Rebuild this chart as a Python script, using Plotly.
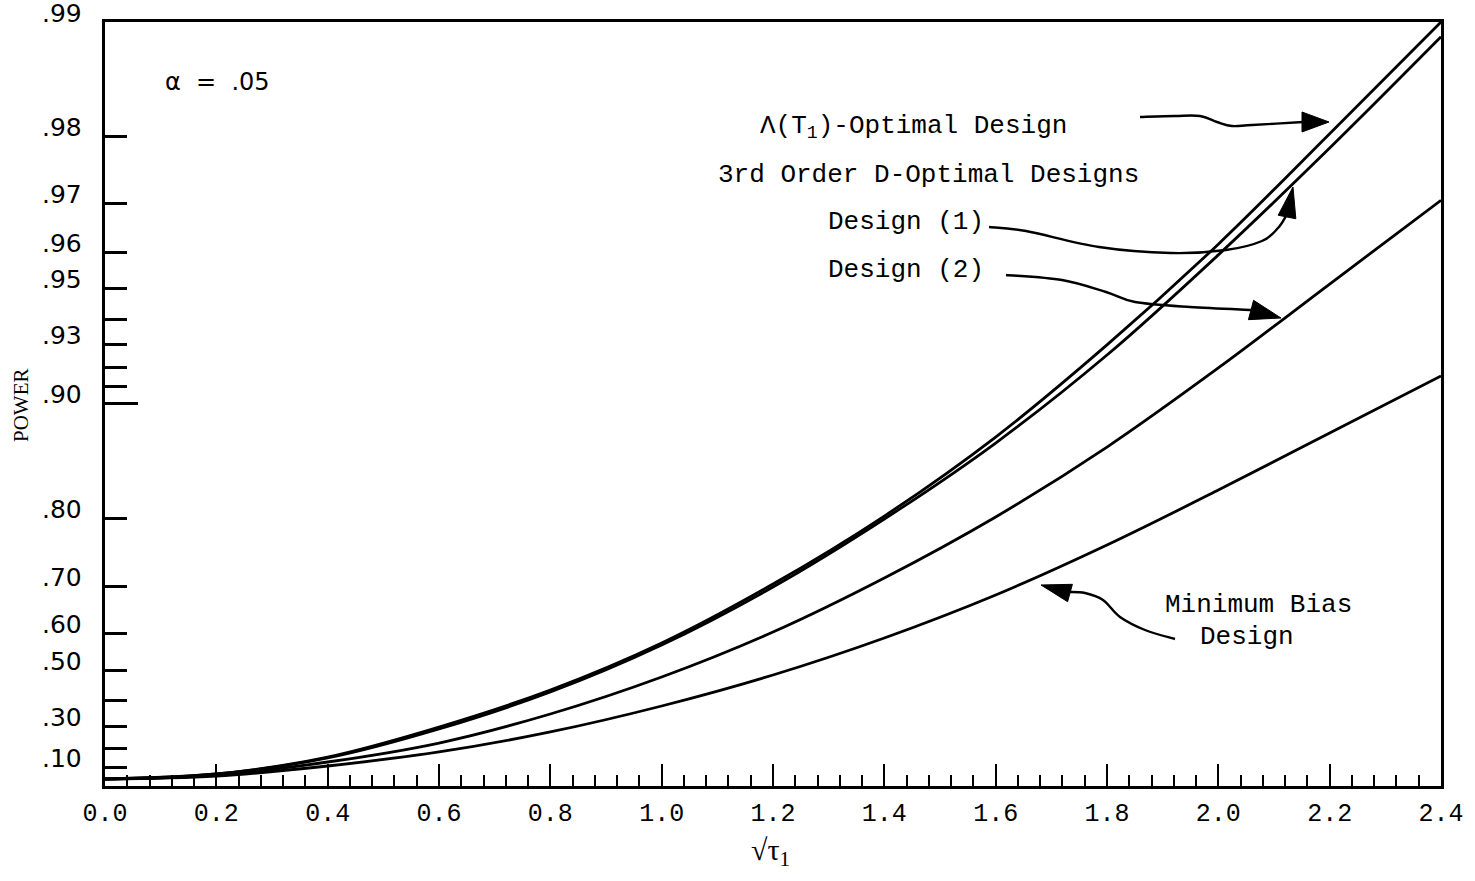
import numpy as np
import plotly.graph_objects as go

# ---------------- data ----------------
SQRT_TAU = [0.0, 0.2, 0.4, 0.6, 0.8, 1.0, 1.2, 1.4, 1.6, 1.8, 2.0, 2.2, 2.4]
POWER_LAMBDA_OPT = [0.05, 0.0708, 0.1526, 0.2955, 0.4333, 0.573, 0.7029, 0.8017, 0.8704, 0.9296, 0.9616, 0.9802, 0.990]
POWER_DESIGN_1 = [0.05, 0.0708, 0.1474, 0.2864, 0.4267, 0.5676, 0.6979, 0.7985, 0.8652, 0.9252, 0.9592, 0.9782, 0.9887]
POWER_DESIGN_2 = [0.05, 0.0667, 0.1263, 0.2227, 0.3462, 0.4767, 0.6021, 0.7118, 0.8009, 0.8617, 0.9195, 0.9511, 0.9704]
POWER_MIN_BIAS = [0.05, 0.0625, 0.1053, 0.179, 0.273, 0.3769, 0.4833, 0.5865, 0.6809, 0.7603, 0.8243, 0.8739, 0.9153]

X_TICKS = [0.0, 0.2, 0.4, 0.6, 0.8, 1.0, 1.2, 1.4, 1.6, 1.8, 2.0, 2.2, 2.4]
X_TICK_TEXT = ["0.0", "0.2", "0.4", "0.6", "0.8", "1.0", "1.2", "1.4", "1.6", "1.8", "2.0", "2.2", "2.4"]

Y_TICKS = [0.99, 0.98, 0.97, 0.96, 0.95, 0.94, 0.93, 0.92, 0.91, 0.80, 0.70, 0.60, 0.50, 0.40, 0.30, 0.20, 0.10]
Y_LABELS = {0.99: ".99", 0.98: ".98", 0.97: ".97", 0.96: ".96", 0.95: ".95", 0.93: ".93",
            0.90: ".90", 0.80: ".80", 0.70: ".70", 0.60: ".60", 0.50: ".50", 0.30: ".30", 0.10: ".10"}
Y_LONG_TICK = [0.90]

# ---------------- custom (graph-paper) power scale ----------------
SCALE_POWER = [0.0, 0.05, 0.10, 0.20, 0.30, 0.40, 0.50, 0.60, 0.70, 0.80, 0.90, 0.91, 0.92,
               0.93, 0.94, 0.95, 0.96, 0.97, 0.98, 0.99]
SCALE_POS = [0, 7, 19, 38, 60, 86, 116, 153, 200, 268, 383, 400, 419, 442, 467, 498, 534,
             583, 650, 764]


def to_scale(p):
    return np.interp(p, SCALE_POWER, SCALE_POS)


# plot-area geometry (pixels)
W, H = 1475, 881
L, R, T, B = 105, 1441, 22, 786


def pp(px, py):
    return ((px - L) / (R - L), (B - py) / (B - T))


def smooth_path(pts):
    pts = [np.array(p, float) for p in pts]
    n = len(pts)
    x0, y0 = pp(*pts[0])
    s = f"M {x0:.5f},{y0:.5f}"
    for i in range(n - 1):
        p0 = pts[i - 1] if i > 0 else pts[i]
        p1 = pts[i]
        p2 = pts[i + 1]
        p3 = pts[i + 2] if i + 2 < n else pts[i + 1]
        c1 = p1 + (p2 - p0) / 6.0
        c2 = p2 - (p3 - p1) / 6.0
        a = pp(*c1); b = pp(*c2); c = pp(*p2)
        s += f" C {a[0]:.5f},{a[1]:.5f} {b[0]:.5f},{b[1]:.5f} {c[0]:.5f},{c[1]:.5f}"
    return s


def head_path(base, tip, hw):
    base = np.array(base, float); tip = np.array(tip, float)
    u = (tip - base) / np.linalg.norm(tip - base)
    nrm = np.array([-u[1], u[0]])
    v1 = base + nrm * hw
    v2 = base - nrm * hw
    a = pp(*v1); b = pp(*tip); c = pp(*v2)
    return f"M {a[0]:.5f},{a[1]:.5f} L {b[0]:.5f},{b[1]:.5f} L {c[0]:.5f},{c[1]:.5f} Z"


fig = go.Figure()
for name, vals in [("Λ(T1)-Optimal Design", POWER_LAMBDA_OPT),
                   ("Design (1)", POWER_DESIGN_1),
                   ("Design (2)", POWER_DESIGN_2),
                   ("Minimum Bias Design", POWER_MIN_BIAS)]:
    fig.add_trace(go.Scatter(x=SQRT_TAU, y=to_scale(vals), mode="lines", name=name,
                             line=dict(color="black", width=2.8, shape="spline", smoothing=1.0),
                             showlegend=False, hoverinfo="skip"))

MONO = "Liberation Mono"
SANS = "DejaVu Sans"
SERIF = "Liberation Serif"

ann = []
# y tick labels (sit slightly above their ticks as in the original)
for v, txt in Y_LABELS.items():
    ann.append(dict(x=0, xref="paper", y=float(to_scale(v)), yref="y", text=txt, showarrow=False,
                    xanchor="right", yanchor="middle", xshift=-21, yshift=9,
                    font=dict(family=SANS, size=25, color="black")))

# axis titles
px_, py_ = pp(21, 405)
ann.append(dict(x=px_, xref="paper", y=py_, yref="paper", text="POWER",
                showarrow=False, textangle=-90, xanchor="center", yanchor="middle",
                font=dict(family=SERIF, size=21, color="black")))
px_, py_ = pp(770, 852)
ann.append(dict(x=px_, xref="paper", y=py_, yref="paper",
                text="√τ<sub>1</sub>", showarrow=False, xanchor="center", yanchor="middle",
                font=dict(family=SERIF, size=30, color="black")))

# text labels
labels = [
    ("α  =  .05", 163, 82, SANS, 24),
    ("Λ(T<sub>1</sub>)-Optimal Design", 758, 127, MONO, 26),
    ("3rd Order D-Optimal Designs", 716, 175, MONO, 26),
    ("Design (1)", 826, 222, MONO, 26),
    ("Design (2)", 826, 270, MONO, 26),
    ("Minimum Bias", 1163, 605, MONO, 26),
    ("Design", 1198, 637, MONO, 26),
]
for txt, px, py, fam, sz in labels:
    x, y = pp(px, py)
    ann.append(dict(x=x, xref="paper", y=y, yref="paper", text=txt, showarrow=False,
                    xanchor="left", yanchor="middle", font=dict(family=fam, size=sz, color="black")))

# arrows (tails + filled heads), pixel-traced
arrows = [
    ([(1140, 117), (1175, 116), (1200, 116), (1217, 122), (1232, 126), (1252, 125), (1303, 122)],
     (1302, 122), (1329, 122), 10),
    ([(989, 227), (1026, 231), (1099, 247), (1171, 253), (1226, 250), (1262, 241), (1278, 228), (1286, 216)],
     (1287, 217), (1293, 187), 9),
    ([(1006, 275), (1062, 280), (1106, 292), (1135, 302), (1190, 307), (1252, 310)],
     (1251, 310), (1281, 318), 10),
    ([(1175, 639), (1145, 630), (1120, 617), (1103, 600), (1085, 593), (1068, 592)],
     (1070, 593), (1041, 585), 9),
]
shapes = []
for tail, base, tip, hw in arrows:
    shapes.append(dict(type="path", xref="paper", yref="paper", path=smooth_path(tail),
                       line=dict(color="black", width=2.4)))
    shapes.append(dict(type="path", xref="paper", yref="paper", path=head_path(base, tip, hw),
                       fillcolor="black", line=dict(color="black", width=1)))

fig.update_layout(
    width=W, height=H,
    margin=dict(l=L, r=W - R, t=T, b=H - B, pad=0),
    paper_bgcolor="white", plot_bgcolor="white",
    annotations=ann, shapes=shapes, showlegend=False,
    xaxis=dict(range=[0, 2.4], tickmode="array", tickvals=X_TICKS, ticktext=X_TICK_TEXT,
               ticks="inside", ticklen=22, tickwidth=2.2, tickcolor="black",
               minor=dict(dtick=0.04, tick0=0, ticks="inside", ticklen=11, tickwidth=2, tickcolor="black"),
               showline=True, linewidth=3, linecolor="black", mirror=True,
               showgrid=False, zeroline=False, ticklabelstandoff=2,
               tickfont=dict(family=MONO, size=25, color="black")),
    yaxis=dict(range=[0, 764], tickmode="array", tickvals=[float(to_scale(v)) for v in Y_TICKS],
               showticklabels=False, ticks="inside", ticklen=22, tickwidth=2.5, tickcolor="black",
               minor=dict(tickmode="array", tickvals=[float(to_scale(v)) for v in Y_LONG_TICK],
                          ticks="inside", ticklen=33, tickwidth=2.5, tickcolor="black"),
               showline=True, linewidth=3, linecolor="black", mirror=True,
               showgrid=False, zeroline=False),
)

fig.write_html("out.html")
